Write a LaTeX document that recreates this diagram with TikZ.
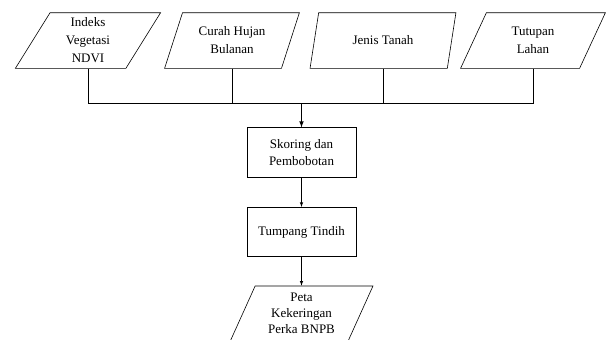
\documentclass[tikz,border=0pt]{standalone}
\usepackage{fontspec}
\setmainfont{Liberation Serif}
\usetikzlibrary{shapes.geometric}

\begin{document}
\begin{tikzpicture}[x=1pt,y=-1pt,>=latex,line width=0.6pt,
  datain/.style={draw,trapezium,trapezium left angle=66,trapezium right angle=114,
    trapezium stretches=true,minimum height=55.6pt,inner sep=0pt,align=center,
    font=\fontsize{13}{18}\selectfont},
  proses/.style={draw,rectangle,minimum width=109pt,minimum height=50pt,inner sep=0pt,
    align=center,font=\fontsize{13}{16.5}\selectfont}]
\useasboundingbox (0,0) rectangle (606,340);

\coordinate (gabung) at (301.5,103);

\node[datain,minimum width=146pt] (ndvi) at (88,40.5) {Indeks\\Vegetasi\\NDVI};
\node[datain,minimum width=136pt] (hujan) at (232,40.5) {Curah Hujan\\Bulanan};
\node[datain,minimum width=147pt] (tanah) at (383,40.5) {Jenis Tanah};
\node[datain,minimum width=145pt] (lahan) at (533,40.5) {Tutupan\\Lahan};

\node[proses] (skor) at (301.5,152.7) {Skoring dan\\Pembobotan};
\node[proses,minimum height=49.4pt] (tindih) at (301.5,232) {Tumpang Tindih};
\node[datain,minimum width=143pt,font=\fontsize{13}{16}\selectfont] (peta) at (301.5,313.8) {Peta\\Kekeringan\\Perka BNPB};

% garis dari data masukan
\draw (ndvi.south) |- (gabung);
\draw (lahan.south) |- (gabung);
\draw (hujan.south) -- (hujan.south |- gabung);
\draw (tanah.south) -- (tanah.south |- gabung);

\draw[->,line width=1.1pt] (gabung) -- (skor.north);
\draw[->] (skor) -- (tindih);
\draw[->] (tindih) -- (peta);
\end{tikzpicture}
\end{document}
